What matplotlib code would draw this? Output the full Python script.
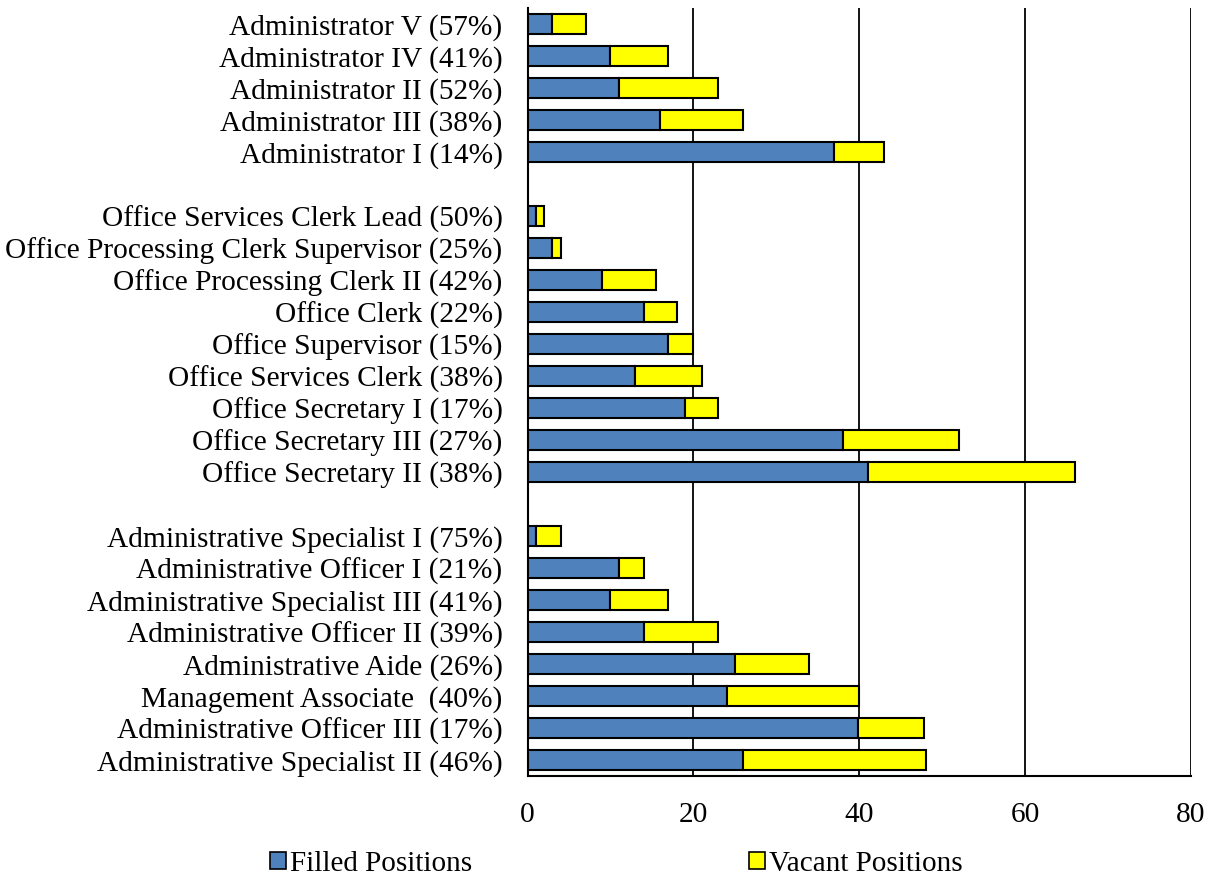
import numpy as np
import matplotlib.pyplot as plt
from matplotlib.patches import Patch

plt.rcParams['font.family'] = ['Liberation Serif', 'DejaVu Serif']

# three groups, listed top to bottom
admin_labels = ['Administrator V (57%)', 'Administrator IV (41%)', 'Administrator II (52%)',
                'Administrator III (38%)', 'Administrator I (14%)']
admin_filled = [3, 10, 11, 16, 37]
admin_vacant = [4, 7, 12, 10, 6]

office_labels = ['Office Services Clerk Lead (50%)', 'Office Processing Clerk Supervisor (25%)',
                 'Office Processing Clerk II (42%)', 'Office Clerk (22%)', 'Office Supervisor (15%)',
                 'Office Services Clerk (38%)', 'Office Secretary I (17%)',
                 'Office Secretary III (27%)', 'Office Secretary II (38%)']
office_filled = [1, 3, 9, 14, 17, 13, 19, 38, 41]
office_vacant = [1, 1, 6.5, 4, 3, 8, 4, 14, 25]

spec_labels = ['Administrative Specialist I (75%)', 'Administrative Officer I (21%)',
               'Administrative Specialist III (41%)', 'Administrative Officer II (39%)',
               'Administrative Aide (26%)', 'Management Associate  (40%)',
               'Administrative Officer III (17%)', 'Administrative Specialist II (46%)']
spec_filled = [1, 11, 10, 14, 25, 24, 39.8, 26]
spec_vacant = [3, 3, 7, 9, 9, 16, 8, 22]

groups = [(admin_labels, admin_filled, admin_vacant),
          (office_labels, office_filled, office_vacant),
          (spec_labels, spec_filled, spec_vacant)]

labels, filled, vacant, ypos = [], [], [], []
slot = sum(len(g[0]) for g in groups) + len(groups) - 2
for lab, f, v in groups:
    for i in range(len(lab)):
        labels.append(lab[i])
        filled.append(f[i])
        vacant.append(v[i])
        ypos.append(slot)
        slot -= 1
    slot -= 1  # blank row between groups

filled = np.array(filled)
vacant = np.array(vacant)

blue = '#4F81BD'
yellow = '#FFFF00'

fig = plt.figure(figsize=(12.14, 8.77), dpi=100)
ax = fig.add_axes([527.5 / 1214, 1 - 776 / 877, (1191 - 527.5) / 1214, (776 - 8) / 877])

ax.barh(ypos, filled, height=0.6, color=blue, edgecolor='black', linewidth=1.5, zorder=3)
ax.barh(ypos, vacant, left=filled, height=0.6, color=yellow, edgecolor='black', linewidth=1.5, zorder=3)

ax.set_xlim(0, 80)
ax.set_ylim(-0.5, 23.5)
ax.set_xticks([0, 20, 40, 60, 80])
ax.set_yticks(ypos)
ax.set_yticklabels(labels)
ax.tick_params(axis='both', length=0, labelsize=21.2)
ax.tick_params(axis='y', pad=18)
ax.tick_params(axis='x', pad=19)

ax.grid(axis='x', color='black', linewidth=1.3, zorder=0)
for s in ['top', 'right']:
    ax.spines[s].set_visible(False)
ax.spines['left'].set_linewidth(1.5)
ax.spines['bottom'].set_linewidth(1.5)

handles = [Patch(facecolor=blue, edgecolor='black', linewidth=1.2),
           Patch(facecolor=yellow, edgecolor='black', linewidth=1.2)]
fig.legend(handles, ['Filled Positions', 'Vacant Positions'], loc='center',
           bbox_to_anchor=(616.5 / 1214, 1 - 864 / 877), ncol=2, frameon=False,
           fontsize=21, handlelength=0.55, handleheight=0.55, handletextpad=0.14,
           columnspacing=9.5, borderpad=0.1)

fig.savefig('out.png', dpi=100)
